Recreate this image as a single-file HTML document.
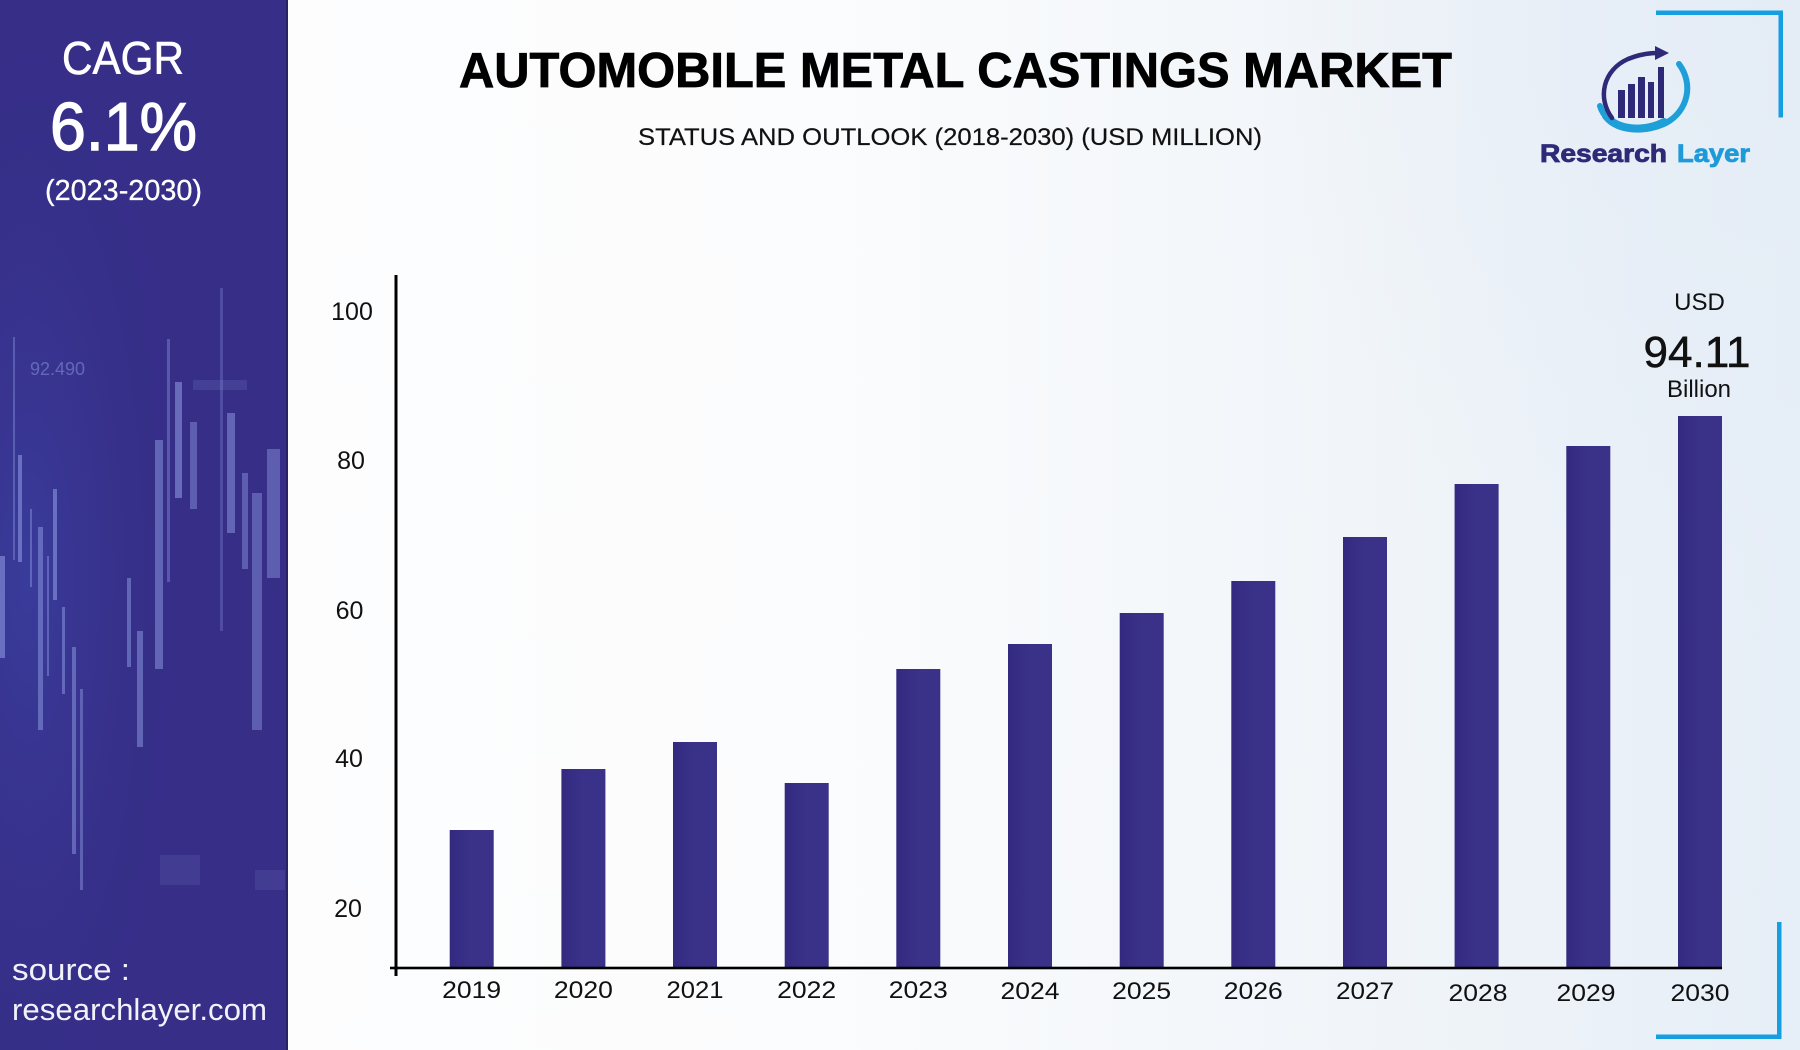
<!DOCTYPE html>
<html>
<head>
<meta charset="utf-8">
<style>
html,body{margin:0;padding:0;width:1800px;height:1050px;overflow:hidden;background:#fff;}
svg{display:block;}
</style>
</head>
<body>
<svg width="1800" height="1050" viewBox="0 0 1800 1050" xmlns="http://www.w3.org/2000/svg">
<defs>
<linearGradient id="bg" x1="0" y1="0" x2="1" y2="0">
<stop offset="0" stop-color="#fefefe"/>
<stop offset="0.45" stop-color="#fbfcfd"/>
<stop offset="0.75" stop-color="#f1f5f9"/>
<stop offset="1" stop-color="#e6eef7"/>
</linearGradient>
<radialGradient id="tr" cx="1" cy="0" r="0.6">
<stop offset="0" stop-color="#e4ecf6" stop-opacity="0.9"/>
<stop offset="1" stop-color="#e4ecf6" stop-opacity="0"/>
</radialGradient>
<radialGradient id="side" cx="0.1" cy="0.55" r="0.6">
<stop offset="0" stop-color="#3c45a8" stop-opacity="0.6"/>
<stop offset="1" stop-color="#352d86" stop-opacity="0"/>
</radialGradient>
<linearGradient id="bar" x1="0" y1="0" x2="1" y2="0">
<stop offset="0" stop-color="#332a80"/>
<stop offset="0.5" stop-color="#3a3189"/>
<stop offset="1" stop-color="#3a3188"/>
</linearGradient>
</defs>

<!-- main background -->
<rect x="0" y="0" width="1800" height="1050" fill="url(#bg)"/>
<rect x="900" y="0" width="900" height="1050" fill="url(#tr)"/>

<!-- sidebar -->
<rect x="0" y="0" width="287" height="1050" fill="#362e87"/>
<rect x="0" y="0" width="287" height="1050" fill="url(#side)"/>
<g fill="#9aa8ee">
<rect x="13" y="337" width="2" height="223" opacity="0.35"/>
<rect x="18" y="455" width="4" height="107" opacity="0.5"/>
<rect x="30" y="509" width="2" height="78" opacity="0.4"/>
<rect x="38" y="527" width="5" height="203" opacity="0.45"/>
<rect x="47" y="556" width="2" height="120" opacity="0.4"/>
<rect x="53" y="489" width="4" height="111" opacity="0.5"/>
<rect x="62" y="607" width="3" height="87" opacity="0.45"/>
<rect x="72" y="647" width="4" height="207" opacity="0.45"/>
<rect x="80" y="689" width="3" height="201" opacity="0.4"/>
<rect x="0" y="556" width="5" height="102" opacity="0.5"/>
<rect x="127" y="578" width="4" height="89" opacity="0.45"/>
<rect x="137" y="631" width="6" height="116" opacity="0.45"/>
<rect x="155" y="440" width="8" height="229" opacity="0.45"/>
<rect x="167" y="339" width="3" height="243" opacity="0.35"/>
<rect x="175" y="382" width="7" height="116" opacity="0.5"/>
<rect x="190" y="422" width="7" height="87" opacity="0.4"/>
<rect x="220" y="288" width="3" height="343" opacity="0.25"/>
<rect x="227" y="413" width="8" height="120" opacity="0.45"/>
<rect x="242" y="473" width="6" height="96" opacity="0.4"/>
<rect x="252" y="493" width="10" height="237" opacity="0.4"/>
<rect x="267" y="449" width="13" height="129" opacity="0.4"/>
<rect x="193" y="380" width="54" height="10" opacity="0.15"/>
<rect x="160" y="855" width="40" height="30" opacity="0.12"/>
<rect x="255" y="870" width="30" height="20" opacity="0.12"/>
</g>
<text x="30" y="375" font-family="Liberation Sans, sans-serif" font-size="18" fill="#9aa8ee" opacity="0.45">92.490</text>
<rect x="286" y="0" width="2" height="1050" fill="#2a2466"/>

<!-- sidebar text -->
<g font-family="Liberation Sans, sans-serif" fill="#ffffff" text-anchor="middle">
<text x="123" y="74" font-size="46" textLength="122" lengthAdjust="spacingAndGlyphs" stroke="#ffffff" stroke-width="0.6">CAGR</text>
<text x="123.5" y="150" font-size="68" textLength="147" lengthAdjust="spacingAndGlyphs" stroke="#ffffff" stroke-width="1.4">6.1%</text>
<text x="123.5" y="200" font-size="29" textLength="157" lengthAdjust="spacingAndGlyphs" stroke="#ffffff" stroke-width="0.3">(2023-2030)</text>
</g>
<g font-family="Liberation Sans, sans-serif" fill="#f2f2fa" font-size="31">
<text x="12" y="980" textLength="118" lengthAdjust="spacingAndGlyphs">source :</text>
<text x="12" y="1020" textLength="255" lengthAdjust="spacingAndGlyphs">researchlayer.com</text>
</g>

<!-- title -->
<text x="459" y="87" font-family="Liberation Sans, sans-serif" font-weight="bold" font-size="49" fill="#000" stroke="#000" stroke-width="0.8" textLength="993" lengthAdjust="spacingAndGlyphs">AUTOMOBILE METAL CASTINGS MARKET</text>
<text x="638" y="145" font-family="Liberation Sans, sans-serif" font-size="24" fill="#111" stroke="#111" stroke-width="0.2" textLength="624" lengthAdjust="spacingAndGlyphs">STATUS AND OUTLOOK (2018-2030) (USD MILLION)</text>

<!-- brackets -->
<g fill="#159fe0">
<rect x="1656" y="10.5" width="127" height="4.5"/>
<rect x="1778.5" y="10.5" width="4.5" height="107"/>
<rect x="1777" y="922" width="4.5" height="117"/>
<rect x="1656" y="1034.5" width="125.5" height="4.5"/>
</g>

<!-- logo -->
<g>
<path d="M1600,106 C1606,128 1640,136 1666,123 C1688,111 1694,84 1679,64" fill="none" stroke="#1e9fd8" stroke-width="6" stroke-linecap="round"/>
<path d="M1606,116 C1618,131 1645,132 1664,122" fill="none" stroke="#1e9fd8" stroke-width="8" stroke-linecap="round"/>
<path d="M1612,118 C1597,98 1603,70 1628,59 C1638,55 1648,53 1657,53" fill="none" stroke="#2e2a78" stroke-width="4.5" stroke-linecap="round"/>
<polygon points="1655,46 1669,53 1655,60" fill="#2e2a78"/>
<g fill="#2e2a78">
<rect x="1618" y="90" width="7" height="28"/>
<rect x="1628" y="84" width="7" height="34"/>
<rect x="1638" y="77" width="7" height="41"/>
<rect x="1648" y="82" width="6" height="36"/>
<rect x="1658" y="67" width="6" height="51"/>
</g>
</g>
<text x="1540" y="162" font-family="Liberation Sans, sans-serif" font-weight="bold" font-size="25" fill="#2e2a78" stroke="#2e2a78" stroke-width="0.8" textLength="127" lengthAdjust="spacingAndGlyphs">Research</text>
<text x="1677" y="162" font-family="Liberation Sans, sans-serif" font-weight="bold" font-size="25" fill="#1e9ad8" stroke="#1e9ad8" stroke-width="0.8" textLength="73" lengthAdjust="spacingAndGlyphs">Layer</text>

<!-- USD annotation -->
<g font-family="Liberation Sans, sans-serif" fill="#111" text-anchor="middle">
<text x="1699.5" y="310" font-size="24">USD</text>
<text x="1697" y="367" font-size="44" textLength="107" lengthAdjust="spacingAndGlyphs" stroke="#111" stroke-width="0.5">94.11</text>
<text x="1699" y="397" font-size="24">Billion</text>
</g>

<!-- bars -->
<g fill="url(#bar)">
<rect x="449.7" y="830" width="44" height="138"/>
<rect x="561.4" y="769" width="44" height="199"/>
<rect x="673" y="742" width="44" height="226"/>
<rect x="784.7" y="783" width="44" height="185"/>
<rect x="896.3" y="669" width="44" height="299"/>
<rect x="1008" y="644" width="44" height="324"/>
<rect x="1119.7" y="613" width="44" height="355"/>
<rect x="1231.3" y="581" width="44" height="387"/>
<rect x="1343" y="537" width="44" height="431"/>
<rect x="1454.6" y="484" width="44" height="484"/>
<rect x="1566.3" y="446" width="44" height="522"/>
<rect x="1678" y="416" width="44" height="552"/>
</g>

<!-- axes -->
<rect x="394.5" y="275" width="3" height="701" fill="#000"/>
<rect x="390" y="966.7" width="1332" height="2.6" fill="#000"/>

<!-- y tick labels -->
<g font-family="Liberation Sans, sans-serif" font-size="25" fill="#111" text-anchor="middle">
<text x="352" y="320">100</text>
<text x="351" y="469">80</text>
<text x="349.5" y="619">60</text>
<text x="349" y="767">40</text>
<text x="348" y="917">20</text>
</g>

<!-- x labels -->
<g font-family="Liberation Sans, sans-serif" font-size="24" fill="#111" text-anchor="middle">
<text x="471.7" y="998" textLength="59" lengthAdjust="spacingAndGlyphs">2019</text>
<text x="583.4" y="998" textLength="59" lengthAdjust="spacingAndGlyphs">2020</text>
<text x="695" y="998" textLength="57" lengthAdjust="spacingAndGlyphs">2021</text>
<text x="806.7" y="998" textLength="59" lengthAdjust="spacingAndGlyphs">2022</text>
<text x="918.3" y="998" textLength="59" lengthAdjust="spacingAndGlyphs">2023</text>
<text x="1030" y="999" textLength="59" lengthAdjust="spacingAndGlyphs">2024</text>
<text x="1141.7" y="999" textLength="59" lengthAdjust="spacingAndGlyphs">2025</text>
<text x="1253.3" y="999" textLength="59" lengthAdjust="spacingAndGlyphs">2026</text>
<text x="1365" y="999" textLength="58" lengthAdjust="spacingAndGlyphs">2027</text>
<text x="1478" y="1001" textLength="59" lengthAdjust="spacingAndGlyphs">2028</text>
<text x="1586" y="1001" textLength="59" lengthAdjust="spacingAndGlyphs">2029</text>
<text x="1700" y="1001" textLength="59" lengthAdjust="spacingAndGlyphs">2030</text>
</g>
</svg>
</body>
</html>
